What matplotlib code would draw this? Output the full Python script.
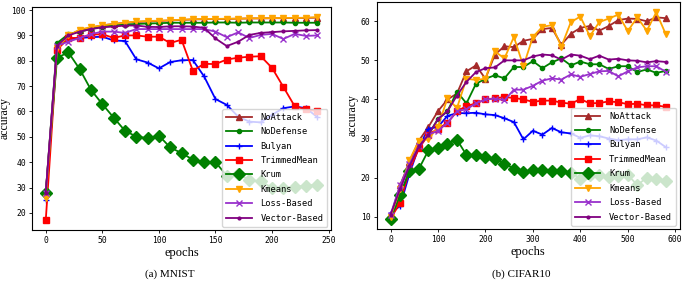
import matplotlib
matplotlib.use("Agg")
import matplotlib.pyplot as plt
import numpy as np

# ---------------- MNIST ----------------
mnist_epochs = list(range(0, 241, 10))
mnist_noattack = [28, 86, 90, 92, 93, 94, 94.5, 95, 95.3, 95.5, 95.7, 95.9, 96.1, 96.3, 96.4, 96.5, 96.5, 96.6, 96.7, 96.7, 96.8, 96.8, 96.9, 96.9, 97.0]
mnist_nodefense = [28, 87, 90.5, 91.5, 92.5, 93.5, 94, 94.3, 94.5, 94.7, 94.8, 95, 95, 95, 95, 95.1, 95.1, 95, 95.1, 95.1, 95.1, 95.1, 95, 95, 95]
mnist_bulyan = [25, 85, 88.5, 89, 89.3, 89.5, 88, 87.8, 80.6, 79.3, 77, 79.5, 80.2, 80.3, 73.8, 64.9, 62.6, 58, 56, 55.7, 58.7, 61.3, 62, 61.3, 57.8]
mnist_trimmed = [17.2, 84.3, 89, 89, 90.3, 90.5, 89, 90, 90, 89.5, 89.5, 87, 88.3, 76.1, 78.8, 78.7, 80.5, 81.2, 81.6, 81.8, 77.2, 69.7, 62.1, 60.8, 60.1]
mnist_krum = [28, 81.2, 83.3, 76.7, 68.5, 62.9, 57.6, 52.4, 50.1, 49.5, 50.5, 45.8, 43.6, 41, 39.9, 40, 34.7, 35.3, 33, 32.5, 29.9, 29.8, 30.3, 30.8, 31.1]
mnist_kmeans = [26, 85, 90, 92.3, 93.3, 94, 94.5, 95, 95.5, 95.7, 95.8, 96, 96.2, 96.4, 96.5, 96.5, 96.6, 96.6, 96.7, 96.8, 96.8, 96.9, 96.9, 97, 97.2]
mnist_loss = [28, 86, 87.5, 89, 90.5, 91.5, 91.5, 91, 92.5, 92.5, 92.5, 92.5, 92.5, 92.5, 92.5, 91.5, 89.3, 91.2, 89, 90.2, 90.6, 88.6, 90.6, 89.8, 90]
mnist_vector = [28, 86, 90, 91.5, 92.5, 93.2, 93.5, 93.9, 93.9, 93.4, 93.3, 93.6, 93.6, 93.5, 93, 88.8, 85.8, 87.5, 90.2, 91, 91.3, 91.6, 91.8, 92, 92.1]

# ---------------- CIFAR10 ----------------
cifar_epochs = list(range(0, 581, 20))
cifar_noattack = [10, 18, 24, 29.5, 33, 37, 40, 41.5, 47.2, 48.7, 45.3, 51.5, 53.6, 53.4, 55, 55.5, 58, 58.3, 54, 56.8, 58.3, 58.8, 57.6, 58.8, 60.3, 60.7, 60.6, 60, 61, 60.8]
cifar_nodefense = [9.5, 15, 22, 28, 31, 35, 37, 42, 39, 44, 45.3, 46.2, 45.4, 48.3, 48.3, 49.8, 48, 49.5, 50.5, 48.7, 49.7, 49, 49, 47.8, 48.5, 48.5, 47, 47.7, 46.8, 47.3]
cifar_bulyan = [11, 12.7, 21, 28, 32.5, 33, 35.8, 36.5, 36.5, 36.6, 36.2, 36, 35.2, 34.2, 29.8, 32, 31, 32.7, 31.6, 31.3, 30.2, 30.8, 30.6, 30, 29.6, 29.8, 29.8, 30.3, 29.5, 27.8]
cifar_trimmed = [9.5, 13.5, 22, 27.5, 31, 32.5, 34, 37, 38.3, 39, 40, 40.3, 40.6, 40.4, 40, 39.4, 39.7, 39.7, 39.2, 38.9, 40.1, 39, 39.1, 39.5, 39.3, 38.8, 38.9, 38.5, 38.5, 38.1]
cifar_krum = [9.5, 15.5, 21.7, 22.3, 27, 27.5, 28.7, 29.7, 25.8, 25.8, 25.3, 24.8, 23.6, 22.3, 21.5, 22, 22, 21.8, 21.8, 21.3, 19.7, 20.8, 20.8, 20.2, 20.5, 20.7, 18.1, 20, 19.6, 19.1]
cifar_kmeans = [10, 17, 24.5, 29.5, 29.8, 33, 40.3, 37.8, 45.3, 45, 45.3, 52.3, 50.5, 56, 48.5, 56, 58.6, 59, 53.5, 59.8, 61.2, 56.2, 59.8, 60.7, 61.7, 57.5, 61, 57.6, 62.3, 56.7]
cifar_loss = [10.5, 18, 23.5, 28, 31, 32, 34, 37, 37.5, 39, 40, 40.2, 39.8, 42.5, 42.5, 43.5, 44.8, 45.4, 45.1, 46.4, 45.8, 46.5, 47.2, 47.3, 45.9, 47.2, 48.2, 48.5, 48.5, 47.1]
cifar_vector = [10.5, 17, 23, 28, 31, 35, 37, 41, 44.5, 47, 48, 48.2, 50, 50, 50, 51, 51.5, 51.3, 50.2, 51.5, 51.2, 50.3, 51.2, 50.2, 50.4, 50, 49.9, 49.5, 49.8, 49.6]

labels = ["NoAttack", "NoDefense", "Bulyan", "TrimmedMean", "Krum", "Kmeans", "Loss-Based", "Vector-Based"]
styles = [
    dict(color="#a52a2a", marker="^", ms=4.5),
    dict(color="green", marker="o", ms=3),
    dict(color="blue", marker="+", ms=5),
    dict(color="red", marker="s", ms=5),
    dict(color="green", marker="D", ms=6),
    dict(color="orange", marker="v", ms=5),
    dict(color="#9932cc", marker="x", ms=4.5),
    dict(color="purple", marker=".", ms=4),
]

fig = plt.figure(figsize=(6.85, 2.81), dpi=100)
ax1 = fig.add_axes([0.047, 0.181, 0.436, 0.794])
ax2 = fig.add_axes([0.550, 0.185, 0.442, 0.808])

mono = "DejaVu Sans Mono"
serif = "Liberation Serif"

def draw(ax, x, series, yticks, xticks):
    for lab, ys, st in zip(labels, series, styles):
        ax.plot(x, ys, label=lab, lw=1.3, **st)
    ax.set_xticks(xticks)
    ax.set_yticks(yticks)
    for t in ax.get_xticklabels() + ax.get_yticklabels():
        t.set_fontfamily(mono)
        t.set_fontsize(5.8)
    ax.tick_params(length=2.5, width=0.6, pad=2)
    ax.set_xlabel("epochs", fontfamily=serif, fontsize=9, labelpad=1)
    ax.legend(loc="lower right", prop=dict(family=mono, size=6.3),
              framealpha=0.8, handlelength=2.9, borderpad=0.45,
              labelspacing=0.62, handletextpad=1.0, borderaxespad=0.4)
    for sp in ax.spines.values():
        sp.set_linewidth(0.8)

draw(ax1, mnist_epochs,
     [mnist_noattack, mnist_nodefense, mnist_bulyan, mnist_trimmed, mnist_krum,
      mnist_kmeans, mnist_loss, mnist_vector],
     [20, 30, 40, 50, 60, 70, 80, 90, 100], [0, 50, 100, 150, 200, 250])
draw(ax2, cifar_epochs,
     [cifar_noattack, cifar_nodefense, cifar_bulyan, cifar_trimmed, cifar_krum,
      cifar_kmeans, cifar_loss, cifar_vector],
     [10, 20, 30, 40, 50, 60], [0, 100, 200, 300, 400, 500, 600])

fig.text(5.0 / 685, 0.58, "accuracy", rotation=90, ha="center", va="center",
         fontfamily=serif, fontsize=8.5)
fig.text(353.0 / 685, 0.59, "accuracy", rotation=90, ha="center", va="center",
         fontfamily=serif, fontsize=8.5)

fig.text(0.248, 0.025, "(a) MNIST", ha="center", va="center", fontfamily=serif, fontsize=8)
fig.text(0.761, 0.025, "(b) CIFAR10", ha="center", va="center", fontfamily=serif, fontsize=8)

fig.savefig("out.png", dpi=100)
